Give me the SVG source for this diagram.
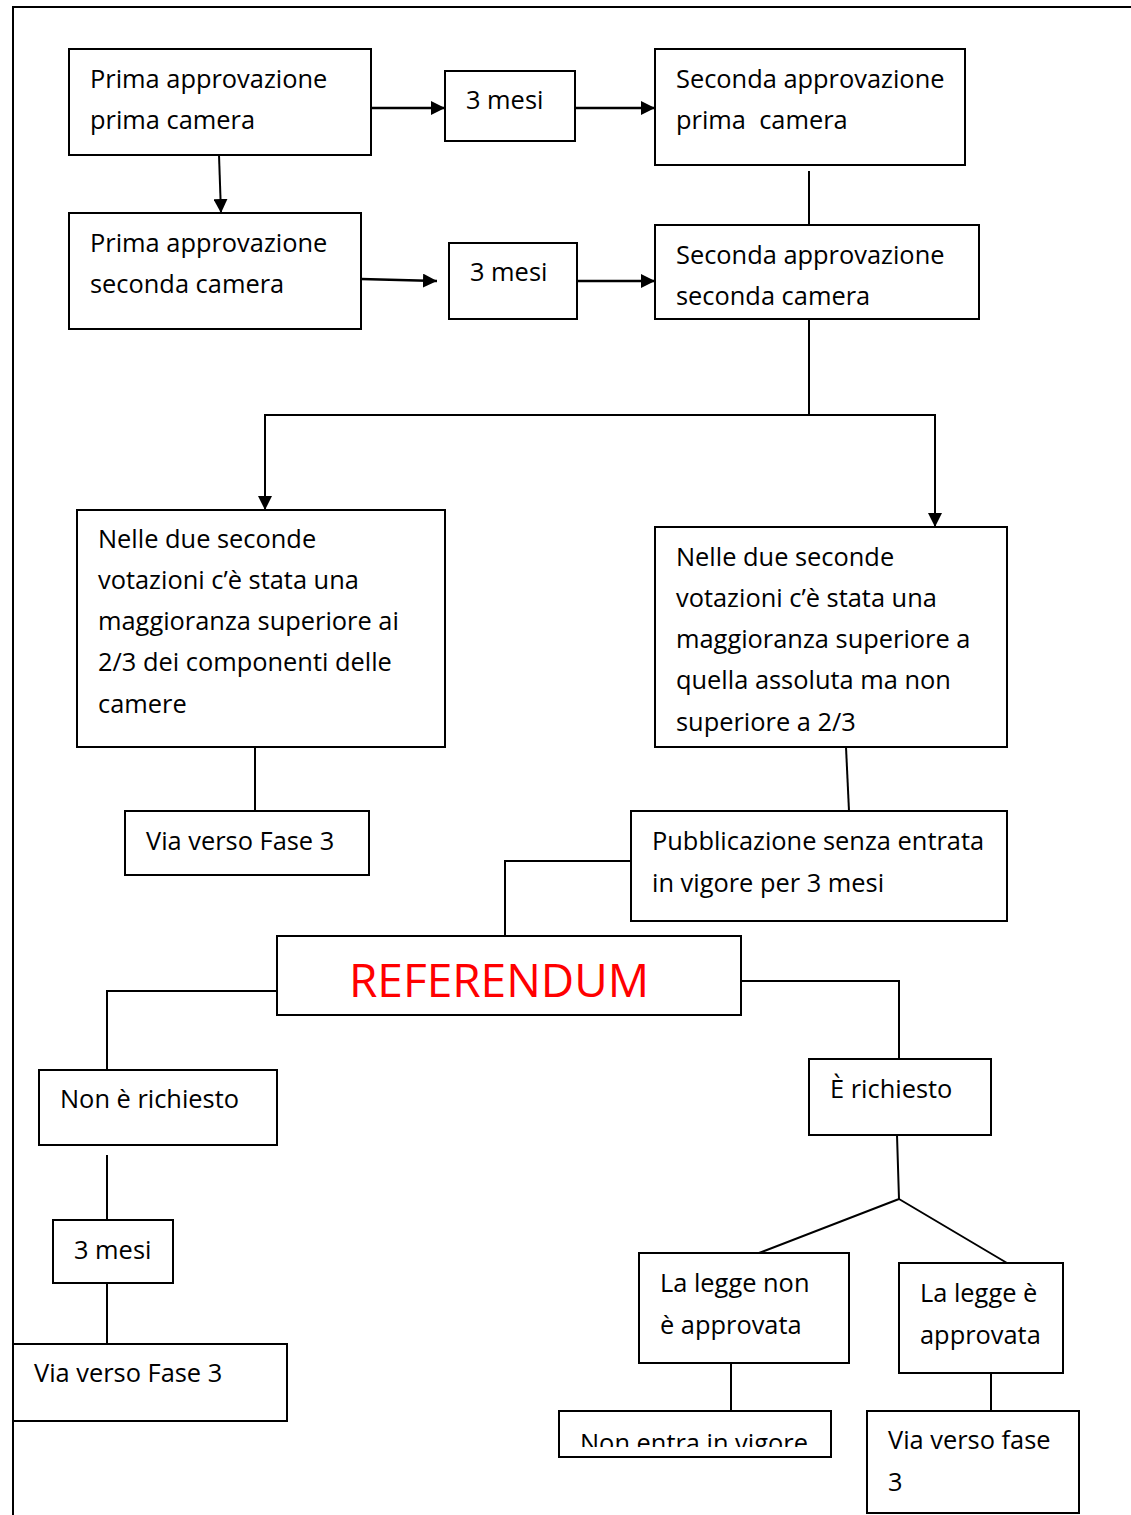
<svg xmlns="http://www.w3.org/2000/svg" width="1131" height="1515" viewBox="0 0 1131 1515">
<style>
.box{fill:#fff;stroke:#000;stroke-width:2}
.t{font-family:"Open Sans","Noto Sans",sans-serif;font-size:25.4px;fill:#000;white-space:pre}
.ref{font-family:"Open Sans","Noto Sans",sans-serif;font-size:46px;fill:#ff0000}
.c{fill:none;stroke:#000;stroke-width:2}
.a{fill:none;stroke:#000;stroke-width:2.5}
</style>
<defs>
<marker id="arr" viewBox="0 0 14 14" refX="14" refY="7" markerWidth="14" markerHeight="14" markerUnits="userSpaceOnUse" orient="auto">
<path d="M0,0 L14,7 L0,14 Z" fill="#000"/>
</marker>
<clipPath id="clipNE"><rect x="559" y="1411" width="272" height="36"/></clipPath>
</defs>
<rect width="1131" height="1515" fill="#fff"/>
<g id="frame">
<path class="c" d="M13,1515 V7 H1131"/>
</g>
<g id="connectors">
<line class="a" x1="369" y1="108" x2="445" y2="108" marker-end="url(#arr)"/>
<line class="a" x1="575" y1="108" x2="655" y2="108" marker-end="url(#arr)"/>
<line class="c" x1="219" y1="155" x2="221" y2="213" marker-end="url(#arr)"/>
<line class="a" x1="361" y1="279" x2="437" y2="281" marker-end="url(#arr)"/>
<line class="a" x1="577" y1="281" x2="655" y2="281" marker-end="url(#arr)"/>
<line class="c" x1="809" y1="171" x2="809" y2="225"/>
<path class="c" d="M809,319 V415"/>
<path class="c" d="M809,415 H265 V510" marker-end="url(#arr)"/>
<path class="c" d="M809,415 H935 V527" marker-end="url(#arr)"/>
<line class="c" x1="255" y1="747" x2="255" y2="811"/>
<line class="c" x1="846" y1="747" x2="849" y2="811"/>
<path class="c" d="M631,861 H505 V936"/>
<path class="c" d="M277,991 H107 V1070"/>
<path class="c" d="M741,981 H899 V1059"/>
<line class="c" x1="107" y1="1155" x2="107" y2="1220"/>
<line class="c" x1="107" y1="1283" x2="107" y2="1344"/>
<path class="c" d="M897,1135 L899,1199 L759,1253"/>
<path class="c" d="M899,1199 L1007,1263"/>
<line class="c" x1="731" y1="1363" x2="731" y2="1411"/>
<line class="c" x1="991" y1="1373" x2="991" y2="1411"/>
</g>
<g id="n1"><rect class="box" x="69" y="49" width="302" height="106"/><text class="t" x="90" y="88">Prima approvazione</text><text class="t" x="90" y="129">prima camera</text></g>
<g id="n2"><rect class="box" x="445" y="71" width="130" height="70"/><text class="t" x="466" y="109">3 mesi</text></g>
<g id="n3"><rect class="box" x="655" y="49" width="310" height="116"/><text class="t" x="676" y="88">Seconda approvazione</text><text class="t" x="676" y="129">prima  camera</text></g>
<g id="n4"><rect class="box" x="69" y="213" width="292" height="116"/><text class="t" x="90" y="252">Prima approvazione</text><text class="t" x="90" y="293">seconda camera</text></g>
<g id="n5"><rect class="box" x="449" y="243" width="128" height="76"/><text class="t" x="470" y="281">3 mesi</text></g>
<g id="n6"><rect class="box" x="655" y="225" width="324" height="94"/><text class="t" x="676" y="264">Seconda approvazione</text><text class="t" x="676" y="305">seconda camera</text></g>
<g id="n7"><rect class="box" x="77" y="510" width="368" height="237"/>
<text class="t" x="98" y="548">Nelle due seconde</text>
<text class="t" x="98" y="589">votazioni c’è stata una</text>
<text class="t" x="98" y="630">maggioranza superiore ai</text>
<text class="t" x="98" y="671">2/3 dei componenti delle</text>
<text class="t" x="98" y="713">camere</text></g>
<g id="n8"><rect class="box" x="655" y="527" width="352" height="220"/>
<text class="t" x="676" y="566">Nelle due seconde</text>
<text class="t" x="676" y="607">votazioni c’è stata una</text>
<text class="t" x="676" y="648">maggioranza superiore a</text>
<text class="t" x="676" y="689">quella assoluta ma non</text>
<text class="t" x="676" y="731">superiore a 2/3</text></g>
<g id="n9"><rect class="box" x="125" y="811" width="244" height="64"/><text class="t" x="146" y="850">Via verso Fase 3</text></g>
<g id="n10"><rect class="box" x="631" y="811" width="376" height="110"/><text class="t" x="652" y="850">Pubblicazione senza entrata</text><text class="t" x="652" y="892">in vigore per 3 mesi</text></g>
<g id="n11"><rect class="box" x="277" y="936" width="464" height="79"/><text class="ref" x="499" y="997" text-anchor="middle">REFERENDUM</text></g>
<g id="n12"><rect class="box" x="39" y="1070" width="238" height="75"/><text class="t" x="60" y="1108">Non è richiesto</text></g>
<g id="n13"><rect class="box" x="809" y="1059" width="182" height="76"/><text class="t" x="830" y="1098">È richiesto</text></g>
<g id="n14"><rect class="box" x="53" y="1220" width="120" height="63"/><text class="t" x="74" y="1259">3 mesi</text></g>
<g id="n15"><rect class="box" x="13" y="1344" width="274" height="77"/><text class="t" x="34" y="1382">Via verso Fase 3</text></g>
<g id="n16"><rect class="box" x="639" y="1253" width="210" height="110"/><text class="t" x="660" y="1292">La legge non</text><text class="t" x="660" y="1334">è approvata</text></g>
<g id="n17"><rect class="box" x="899" y="1263" width="164" height="110"/><text class="t" x="920" y="1302">La legge è</text><text class="t" x="920" y="1344">approvata</text></g>
<g id="n18"><rect class="box" x="559" y="1411" width="272" height="46"/><text class="t" x="580" y="1452" clip-path="url(#clipNE)">Non entra in vigore</text></g>
<g id="n19"><rect class="box" x="867" y="1411" width="212" height="102"/><text class="t" x="888" y="1449">Via verso fase</text><text class="t" x="888" y="1491">3</text></g>
</svg>
